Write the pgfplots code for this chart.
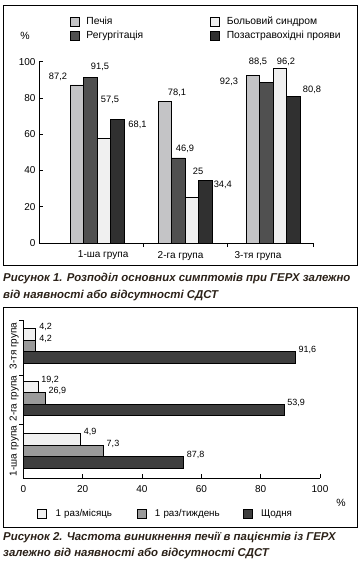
\documentclass[border=0pt]{standalone}
\usepackage{fontspec}
\setmainfont{Liberation Sans}
\usepackage{pgfplots}
\pgfplotsset{compat=1.18}
\definecolor{cA}{HTML}{C4C4C6}
\definecolor{cB}{HTML}{505050}
\definecolor{cC}{HTML}{F0F0F0}
\definecolor{cD}{HTML}{303030}
\definecolor{dA}{HTML}{F0F0F0}
\definecolor{dB}{HTML}{9A9A9A}
\definecolor{dC}{HTML}{3E3E3E}
\definecolor{capcol}{HTML}{2B2118}
\pgfplotsset{
  sq/.style={draw=black, line width=0.6pt,
    legend image code/.code={\draw[##1, line width=0.6pt] (0pt,-4.5pt) rectangle (9pt,4.5pt); \path[draw=none, fill=none] (0pt,0pt) -- (#1,0pt);}},
}
\begin{document}
\begin{tikzpicture}
\path[use as bounding box] (0,0) rectangle (363pt,-563pt);
\draw[line width=0.9pt] (3pt,-5pt) rectangle (357pt,-265.5pt);
\draw[line width=0.9pt] (3pt,-307pt) rectangle (357pt,-527pt);
\tikzset{figcap/.style={anchor=west, inner sep=0pt, text=capcol, font=\fontsize{11.4}{13}\selectfont\bfseries\itshape}}
\node[figcap] at (3pt,-279pt) {Рисунок 1. Розподіл основних симптомів при ГЕРХ залежно};
\node[figcap] at (3pt,-295.5pt) {від наявності або відсутності СДСТ};
\node[figcap] at (3pt,-538pt) {Рисунок 2. Частота виникнення печії в пацієнтів із ГЕРХ};
\node[figcap] at (3pt,-553.5pt) {залежно від наявності або відсутності СДСТ};

% ---------- Chart 1 ----------
\begin{axis}[
  scale only axis, width=274pt, height=181.3pt,
  at={(39pt,-243pt)}, anchor=south west,
  xmin=0.3409, xmax=3.4545, ymin=0, ymax=100,
  axis x line*=bottom, axis y line*=left,
  axis line style={line width=0.6pt},
  tick style={line width=0.6pt, black},
  tick align=inside, major tick length=4pt,
  ytick={0,20,40,60,80,100},
  xtick={1.523,2.477,3.4545}, xticklabels={},
  extra x ticks={1.07,1.95,2.83},
  extra x tick labels={1-ша група,2-га група,3-тя група},
  extra x tick style={major tick length=0pt, xticklabel style={yshift=-4.5pt}},
  /pgf/number format/assume math mode=true,
  tick label style={font=\fontsize{10}{12}\selectfont},
  ybar=0pt, bar width=13.5pt,
  clip=false,
  ylabel={\%}, ylabel style={rotate=-90, at={(axis description cs:-0.051,1.14)}, anchor=center, font=\fontsize{10.5}{12}\selectfont},
  legend columns=2, transpose legend,
  legend style={draw=none, fill=none, inner sep=0pt,
    at={(axis description cs:0.1131,1.2576)}, anchor=north west,
    font=\fontsize{10.3}{12}\selectfont, row sep=1pt,
    /tikz/column 2/.style={text width=122pt},
    cells={anchor=west}},
  legend cell align=left,
]
\addplot[sq=14pt, fill=cA, bar shift=-20.25pt] coordinates {(1,87.2) (2,78.1) (3,92.3)};
\addplot[sq=14pt, fill=cB, bar shift=-6.75pt] coordinates {(1,91.5) (2,46.9) (3,88.5)};
\addplot[sq=14pt, fill=cC, bar shift=6.75pt] coordinates {(1,57.5) (2,25) (3,96.2)};
\addplot[sq=14pt, fill=cD, bar shift=20.25pt] coordinates {(1,68.1) (2,34.4) (3,80.8)};
\legend{Печія,Регургітація,Больовий синдром,Позастравохідні прояви}
\addplot[draw=none, fill=none, bar shift=0pt, forget plot,
  nodes near coords, point meta=explicit symbolic,
  nodes near coords style={anchor=center, font=\fontsize{9.3}{11}\selectfont, text=black}]
  table[meta=lab] {
x y lab
0.557 91.6 87,2
1.034 97.1 91,5
1.148 79.0 57,5
1.460 65.1 68,1
1.909 82.9 78,1
2.000 52.2 46,9
2.148 39.6 25
2.430 31.9 34,4
2.500 88.9 92,3
2.830 99.8 88,5
3.148 99.8 96,2
3.443 84.5 80,8
};
\end{axis}

% ---------- Chart 2 ----------
\begin{axis}[
  scale only axis, width=296.7pt, height=158pt,
  at={(23.3pt,-478pt)}, anchor=south west,
  xmin=0, xmax=100, ymin=0.486, ymax=3.495,
  axis x line*=bottom, axis y line*=left,
  axis line style={line width=0.6pt},
  tick style={line width=0.6pt, black},
  tick align=inside, major tick length=4pt,
  xtick={0,20,40,60,80,100},
  ytick={1.5,2.45,3.495}, yticklabels={},
  extra y ticks={1,2,3},
  extra y tick labels={1-ша група,2-га група,3-тя група},
  extra y tick style={major tick length=0pt, yticklabel style={rotate=90, anchor=south, yshift=1pt}},
  /pgf/number format/assume math mode=true,
  tick label style={font=\fontsize{10}{12}\selectfont},
  xticklabel style={yshift=-3.5pt},
  xbar=0pt, bar width=11.5pt,
  clip=false,
  xlabel={\%}, xlabel style={at={(axis description cs:1.071,-0.155)}, anchor=center, font=\fontsize{10.5}{12}\selectfont},
  legend columns=3,
  legend style={draw=none, fill=none, inner sep=0pt,
    at={(axis description cs:0.0462,-0.228)}, anchor=west,
    font=\fontsize{9.8}{11}\selectfont,
    /tikz/column 2/.style={text width=79pt},
    /tikz/column 4/.style={text width=86pt},
    cells={anchor=west}},
  legend cell align=left,
  nodes near coords, point meta=explicit symbolic,
  nodes near coords style={anchor=west, yshift=7.5pt, font=\fontsize{9}{11}\selectfont, text=black},
]
\addplot[sq=16pt, fill=dA, bar shift=11.5pt] table[meta=lab] {
x y lab
19.2 1 4,9
4.9 2 19,2
4.2 3 4,2
};
\addplot[sq=16pt, fill=dB, bar shift=0pt] table[meta=lab] {
x y lab
26.9 1 7,3
7.3 2 26,9
4.2 3 4,2
};
\addplot[sq=16pt, fill=dC, bar shift=-11.5pt] table[meta=lab] {
x y lab
53.9 1 87,8
87.8 2 53,9
91.6 3 91,6
};
\legend{1 раз/місяць,1 раз/тиждень,Щодня}
\end{axis}
\end{tikzpicture}
\end{document}
